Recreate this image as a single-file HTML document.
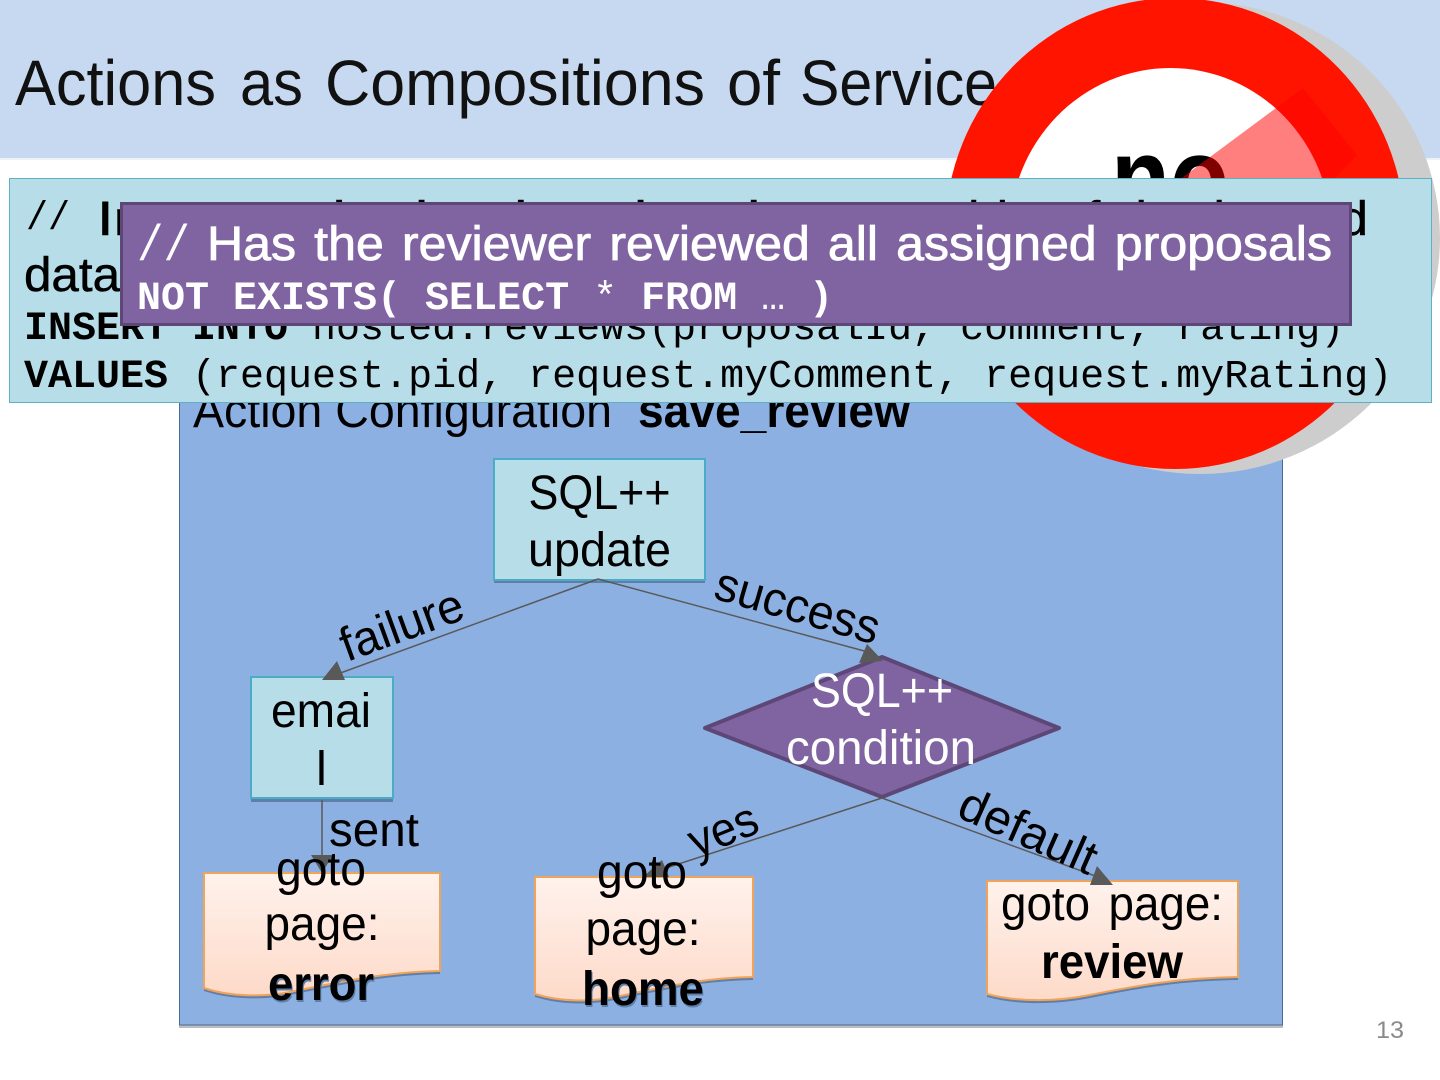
<!DOCTYPE html>
<html><head><meta charset="utf-8"><style>
html,body{margin:0;padding:0;background:#fff}
svg{display:block}
text{font-family:"Liberation Sans Narrow","Liberation Sans",sans-serif}
.m{font-family:"Liberation Mono",monospace;font-size:40px}
</style></head><body>
<svg width="1440" height="1080" viewBox="0 0 1440 1080" xmlns="http://www.w3.org/2000/svg">
<defs>
<linearGradient id="d" x1="0" y1="0" x2="0" y2="1"><stop offset="0" stop-color="#fff2ec"/><stop offset="1" stop-color="#fddac9"/></linearGradient>
</defs>
<rect width="1440" height="158" fill="#c6d9f1"/>
<rect y="158" width="1440" height="2" fill="#eef2f8"/>
<g font-size="64" fill="#111">
<text x="15" y="105" textLength="201" lengthAdjust="spacingAndGlyphs">Actions</text>
<text x="240" y="105" textLength="63" lengthAdjust="spacingAndGlyphs">as</text>
<text x="325" y="105" textLength="380" lengthAdjust="spacingAndGlyphs">Compositions</text>
<text x="727" y="105" textLength="53" lengthAdjust="spacingAndGlyphs">of</text>
<text x="800" y="105" textLength="197" lengthAdjust="spacingAndGlyphs">Service</text>
</g>
<text x="1376" y="1038" font-size="24" fill="#8a8a8a" textLength="28" lengthAdjust="spacingAndGlyphs">13</text>
<rect x="179" y="380" width="1104" height="648" fill="#bdbdbd"/>
<rect x="179.500" y="380" width="1103" height="645" fill="#8db0e2" stroke="#4a6a96"/>
<text x="193" y="427" font-size="48" textLength="419" lengthAdjust="spacingAndGlyphs">Action Configuration</text>
<text x="638" y="427" font-size="48" font-weight="bold" textLength="272" lengthAdjust="spacingAndGlyphs">save_review</text>
<rect x="494" y="463" width="211" height="120" fill="#5f7fa8"/>
<rect x="494" y="459" width="211" height="121" fill="#b7dde8" stroke="#4bacc6" stroke-width="2"/>
<text x="599.500" y="509" font-size="48" text-anchor="middle" textLength="142" lengthAdjust="spacingAndGlyphs">SQL++</text>
<text x="599.500" y="566" font-size="48" text-anchor="middle" textLength="143" lengthAdjust="spacingAndGlyphs">update</text>
<rect x="251" y="681" width="142" height="121" fill="#5f7fa8"/>
<rect x="251" y="677" width="142" height="121" fill="#b7dde8" stroke="#4bacc6" stroke-width="2"/>
<text x="321" y="727" font-size="48" text-anchor="middle" textLength="100" lengthAdjust="spacingAndGlyphs">emai</text>
<text x="321.500" y="785" font-size="48" text-anchor="middle">l</text>
<polygon points="705,728 882,657 1059,728 882,797" fill="#8064a2" stroke="#5c4776" stroke-width="4" stroke-linejoin="round"/>
<text x="882" y="707" font-size="48" text-anchor="middle" fill="#fff" textLength="142" lengthAdjust="spacingAndGlyphs">SQL++</text>
<text x="881" y="764" font-size="48" text-anchor="middle" fill="#fff" textLength="190" lengthAdjust="spacingAndGlyphs">condition</text>
<path d="M204 873H440V971C385 972 340 982 290 992C265 997 230 997 204 988Z" transform="translate(0,3)" fill="#5f7fa8"/>
<path d="M204 873H440V971C385 972 340 982 290 992C265 997 230 997 204 988Z" fill="url(#d)" stroke="#f0a35a" stroke-width="2"/>
<path d="M535 877H753V977C700 978 665 987 615 997C590 1002 560 1002 535 994Z" transform="translate(0,3)" fill="#5f7fa8"/>
<path d="M535 877H753V977C700 978 665 987 615 997C590 1002 560 1002 535 994Z" fill="url(#d)" stroke="#f0a35a" stroke-width="2"/>
<path d="M987 881H1238V977C1180 978 1140 985 1090 995C1060 1001 1020 1003 987 994Z" transform="translate(0,3)" fill="#5f7fa8"/>
<path d="M987 881H1238V977C1180 978 1140 985 1090 995C1060 1001 1020 1003 987 994Z" fill="url(#d)" stroke="#f0a35a" stroke-width="2"/>
<g stroke="#595959" stroke-width="1.500" fill="none">
<path d="M598 579L335 675"/><path d="M598 579L868 652"/><path d="M322 800V860"/><path d="M882 798L660 870"/><path d="M882 798L1098 877"/>
</g>
<g fill="#595959">
<polygon points="322,680 337,661 345,680"/><polygon points="883,661 859,663 867,644"/><polygon points="322,873 311,855 333,855"/><polygon points="643,877 662,860 669,877"/><polygon points="1113,885 1090,885 1097,866"/>
</g>
<text x="347" y="662" font-size="48" transform="rotate(-20 347 662)" textLength="128" lengthAdjust="spacingAndGlyphs">failure</text>
<text x="712" y="598" font-size="48" transform="rotate(16 712 598)" textLength="169" lengthAdjust="spacingAndGlyphs">success</text>
<text x="329" y="846" font-size="48" textLength="90" lengthAdjust="spacingAndGlyphs">sent</text>
<text x="696" y="858" font-size="48" transform="rotate(-22 696 858)" textLength="71" lengthAdjust="spacingAndGlyphs">yes</text>
<text x="955" y="816" font-size="48" transform="rotate(24 955 816)" textLength="146" lengthAdjust="spacingAndGlyphs">default</text>
<text x="321" y="885" font-size="48" text-anchor="middle" textLength="90" lengthAdjust="spacingAndGlyphs">goto</text>
<text x="322" y="940" font-size="48" text-anchor="middle" textLength="115" lengthAdjust="spacingAndGlyphs">page:</text>
<text x="322" y="1002" font-size="48" font-weight="bold" text-anchor="middle" fill="#5f7fa8" textLength="106" lengthAdjust="spacingAndGlyphs">error</text>
<text x="321" y="1000" font-size="48" font-weight="bold" text-anchor="middle" textLength="106" lengthAdjust="spacingAndGlyphs">error</text>
<text x="642" y="888" font-size="48" text-anchor="middle" textLength="90" lengthAdjust="spacingAndGlyphs">goto</text>
<text x="643" y="945" font-size="48" text-anchor="middle" textLength="115" lengthAdjust="spacingAndGlyphs">page:</text>
<text x="644" y="1007" font-size="48" font-weight="bold" text-anchor="middle" fill="#5f7fa8" textLength="122" lengthAdjust="spacingAndGlyphs">home</text>
<text x="643" y="1005" font-size="48" font-weight="bold" text-anchor="middle" textLength="122" lengthAdjust="spacingAndGlyphs">home</text>
<text x="1112" y="920" font-size="48" text-anchor="middle" textLength="222" word-spacing="6" lengthAdjust="spacingAndGlyphs">goto page:</text>
<text x="1112" y="978" font-size="48" font-weight="bold" text-anchor="middle" textLength="142" lengthAdjust="spacingAndGlyphs">review</text>
<ellipse cx="1200" cy="238" rx="240" ry="236" fill="#cdcdcd"/>
<ellipse cx="1175" cy="233.500" rx="230" ry="235.500" fill="#ff1400"/>
<ellipse cx="1170.500" cy="234" rx="161" ry="166" fill="#fff"/>
<text x="1111" y="216" font-size="112" font-weight="bold" style="font-family:'Liberation Sans',sans-serif" textLength="118" lengthAdjust="spacingAndGlyphs">no</text>
<polygon points="1303,88 1357,155 1333,180 1179,180" fill="#ff0000" fill-opacity=".5"/>
<rect x="9.500" y="178.500" width="1422" height="224" fill="#b7dde8" stroke="#5fb0c4"/>
<text class="m" x="26" y="229" textLength="44" lengthAdjust="spacingAndGlyphs">//</text>
<g font-size="48" stroke="#000" stroke-width=".5">
<text x="97" y="235" word-spacing="6" textLength="803" lengthAdjust="spacingAndGlyphs">Insert submitted review into a</text>
<text x="925" y="235" word-spacing="6" textLength="443" lengthAdjust="spacingAndGlyphs">table of the hosted</text>
<text x="24" y="291" textLength="96" lengthAdjust="spacingAndGlyphs">data</text>
<text x="124" y="291" textLength="96" lengthAdjust="spacingAndGlyphs">base</text>
</g>
<text class="m" x="24" y="339"><tspan font-weight="bold">INSERT INTO</tspan> hosted.reviews(proposalId, comment, rating)</text>
<text class="m" x="24" y="387"><tspan font-weight="bold">VALUES</tspan> (request.pid, request.myComment, request.myRating)</text>
<rect x="121.500" y="203.500" width="1229" height="121" fill="#8064a2" stroke="#5c4776" stroke-width="3"/>
<text class="m" x="137" y="260" fill="#fff" style="font-size:50px" textLength="53" lengthAdjust="spacingAndGlyphs">//</text>
<text x="207" y="260" font-size="48" fill="#fff" stroke="#fff" stroke-width=".8" word-spacing="4" textLength="1125" lengthAdjust="spacingAndGlyphs">Has the reviewer reviewed all assigned proposals</text>
<text class="m" x="137" y="309" fill="#fff"><tspan font-weight="bold">NOT EXISTS( SELECT</tspan> * <tspan font-weight="bold">FROM</tspan> … <tspan font-weight="bold">)</tspan></text>
</svg>
</body></html>
